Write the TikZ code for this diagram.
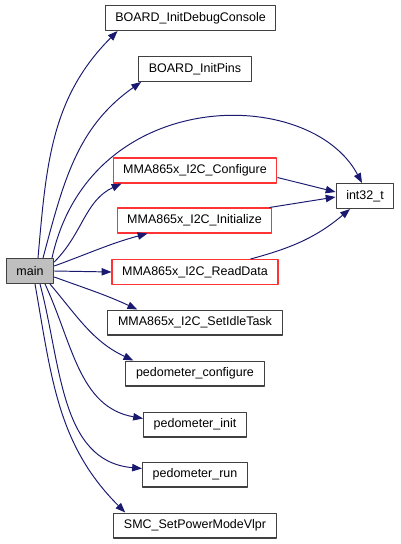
\documentclass[tikz,border=0pt]{standalone}
\usepackage{fontspec}
\setmainfont{Liberation Sans}
\usetikzlibrary{arrows.meta,calc}
\definecolor{edgeblue}{HTML}{191970}
\tikzset{fn/.style={draw=black!75,line width=0.6pt,fill=white,minimum height=14.2pt,inner xsep=5.8pt,inner ysep=0pt,font=\fontsize{7.1}{8}\selectfont},
  fnred/.style={fn,draw=red!80},
  fnmain/.style={fn,fill=black!25,draw=black!75},
  call/.style={draw=edgeblue,line width=0.55pt,-{Triangle[length=5.6pt,width=4.2pt]}}}

\begin{document}
\begin{tikzpicture}[x=0.02cm,y=-0.02cm,line join=round]
\useasboundingbox (0,0) rectangle (401,544);
% --- callee boxes
\node[fnmain] (main) at (30,271) {main};
\node[fn] (debug) at (190.5,18) {BOARD\_InitDebugConsole};
\node[fn] (pins) at (195,69) {BOARD\_InitPins};
\node[fnred] (conf) at (195,170.5) {MMA865x\_I2C\_Configure};
\node[fnred] (init) at (194.5,220.5) {MMA865x\_I2C\_Initialize};
\node[fnred] (read) at (195,272) {MMA865x\_I2C\_ReadData};
\node[fn] (idle) at (195,322.5) {MMA865x\_I2C\_SetIdleTask};
\node[fn] (pconf) at (195,373.5) {pedometer\_configure};
\node[fn] (pinit) at (195,424.5) {pedometer\_init};
\node[fn] (prun) at (195,474.5) {pedometer\_run};
\node[fn] (smc) at (195,525.5) {SMC\_SetPowerModeVlpr};
\node[fn] (int) at (365,196) {int32\_t};
% --- calls from main
\draw[call] ($(main.north)+(8,0)$) to[out=85,in=225] ($(debug.south west)+(13,0)$);
\draw[call] ($(main.north)+(13,0)$) to[out=75,in=215] ($(pins.south west)+(3,0)$);
\draw[call] ($(main.north)+(22,0)$) .. controls (90,85) and (310,85) .. ($(int.north)+(-3,0)$);
\draw[call] ($(main.east)+(0,-9)$) to[out=45,in=205] ($(conf.south west)+(9,0)$);
\draw[call] ($(main.east)+(0,-5)$) to[out=20,in=195] ($(init.south west)+(31,0)$);
\draw[call] (main.east) -- (read.west);
\draw[call] ($(main.east)+(0,6)$) to[out=-20,in=155] ($(idle.north west)+(30,0)$);
\draw[call] ($(main.south)+(20,0)$) to[out=-50,in=155] ($(pconf.north west)+(8,0)$);
\draw[call] ($(main.south)+(15,0)$) to[out=-65,in=170] ($(pinit.west)+(0,-6)$);
\draw[call] ($(main.south)+(10,0)$) to[out=-75,in=175] ($(prun.west)+(0,-6)$);
\draw[call] ($(main.south)+(5,0)$) to[out=-80,in=135] ($(smc.north west)+(12,0)$);
% --- calls to int32_t
\draw[call] ($(conf.east)+(0,7)$) -- ($(int.west)+(0,-4)$);
\draw[call] ($(init.north east)+(-3,0)$) -- ($(int.west)+(0,1)$);
\draw[call] ($(read.north east)+(-28,0)$) to[out=15,in=220] ($(int.south)+(-15,0)$);
\end{tikzpicture}
\end{document}
